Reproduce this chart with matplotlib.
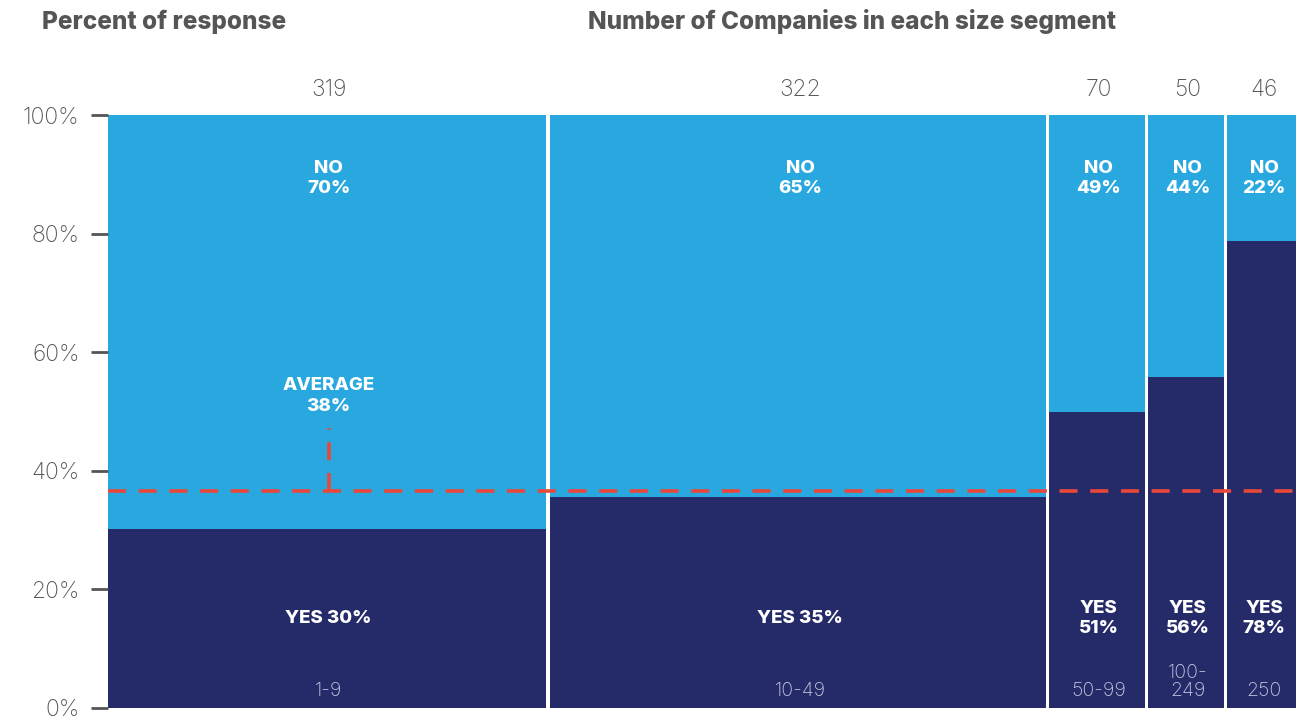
import matplotlib.pyplot as plt
import numpy as np

plt.rcParams['font.family'] = ['Inter', 'DejaVu Sans']

# data
counts = [319, 322, 70, 50, 46]
size_labels = ['1-9', '10-49', '50-99', '100-\n249', '250']
widths = [37.1, 42.0, 8.3, 6.7, 5.9]          # share of the horizontal axis
yes_pct = [30.2, 35.6, 49.9, 55.8, 78.8]      # drawn height of the YES part
yes_text = ['30%', '35%', '51%', '56%', '78%']
no_text = ['70%', '65%', '49%', '44%', '22%']
avg_line = 36.6
avg_text = '38%'

light = '#29a8e0'
dark = '#252a69'
red = '#e8473a'
gap = 0.25

fig = plt.figure(figsize=(13, 7.2), dpi=100)
ax = fig.add_axes([108 / 1300, 12 / 720, 1188 / 1300, 593 / 720])

lefts = np.concatenate([[0], np.cumsum(widths)[:-1]])
bar_w = np.array(widths) - gap
bar_w[-1] = widths[-1]
lefts_draw = lefts.copy()
lefts_draw[1:] += gap / 2
centers = lefts_draw + bar_w / 2
total = sum(widths)

ax.bar(lefts_draw, yes_pct, width=bar_w, align='edge', color=dark, linewidth=0)
ax.bar(lefts_draw, 100 - np.array(yes_pct), width=bar_w, bottom=yes_pct,
       align='edge', color=light, linewidth=0)

ax.set_xlim(0, total)
ax.set_ylim(0, 100)

bold = dict(ha='center', va='center', fontsize=13.5, color='white',
            fontweight='heavy', linespacing=1.3)
for i, c in enumerate(centers):
    ax.text(c + 0.15, 104.2, str(counts[i]), ha='center', va='center',
            fontsize=16.5, color='#555555', fontweight='light')
    ax.text(c + 0.15, 89.3, 'NO\n' + no_text[i], **bold)
    if i < 2:
        ax.text(c + 0.15, 15.1, 'YES ' + yes_text[i], **bold)
    else:
        ax.text(c + 0.15, 15.1, 'YES\n' + yes_text[i], **bold)
    ax.text(c + 0.15, 1.3, size_labels[i], ha='center', va='bottom',
            fontsize=14, color='#c5c8e0', fontweight='light', linespacing=1.0)

# average line
ax.axhline(avg_line, color=red, linewidth=2.6, dashes=(5, 3.5), zorder=5)
ax.plot([centers[0] + 0.15] * 2, [avg_line, 47.2], color=red, linewidth=2.6,
        dashes=(5, 3.5), zorder=5)
ax.text(centers[0] + 0.15, 52.6, 'AVERAGE\n' + avg_text, **bold)

ax.set_yticks([0, 20, 40, 60, 80, 100])
ax.set_yticklabels([f'{t}%' for t in [0, 20, 40, 60, 80, 100]],
                   fontsize=16.5, color='#555555', fontweight='light')
ax.tick_params(axis='y', length=12.5, width=2, color='#555555', pad=8)
ax.set_xticks([])
for s in ax.spines.values():
    s.set_visible(False)

fig.text(42 / 1300, 1 - 22 / 720, 'Percent of response', ha='left', va='center',
         fontsize=17.5, fontweight='heavy', color='#555555')
fig.text(852 / 1300, 1 - 22 / 720, 'Number of Companies in each size segment',
         ha='center', va='center', fontsize=17.5, fontweight='heavy', color='#555555')

fig.savefig('out.png', dpi=100, facecolor='white')
